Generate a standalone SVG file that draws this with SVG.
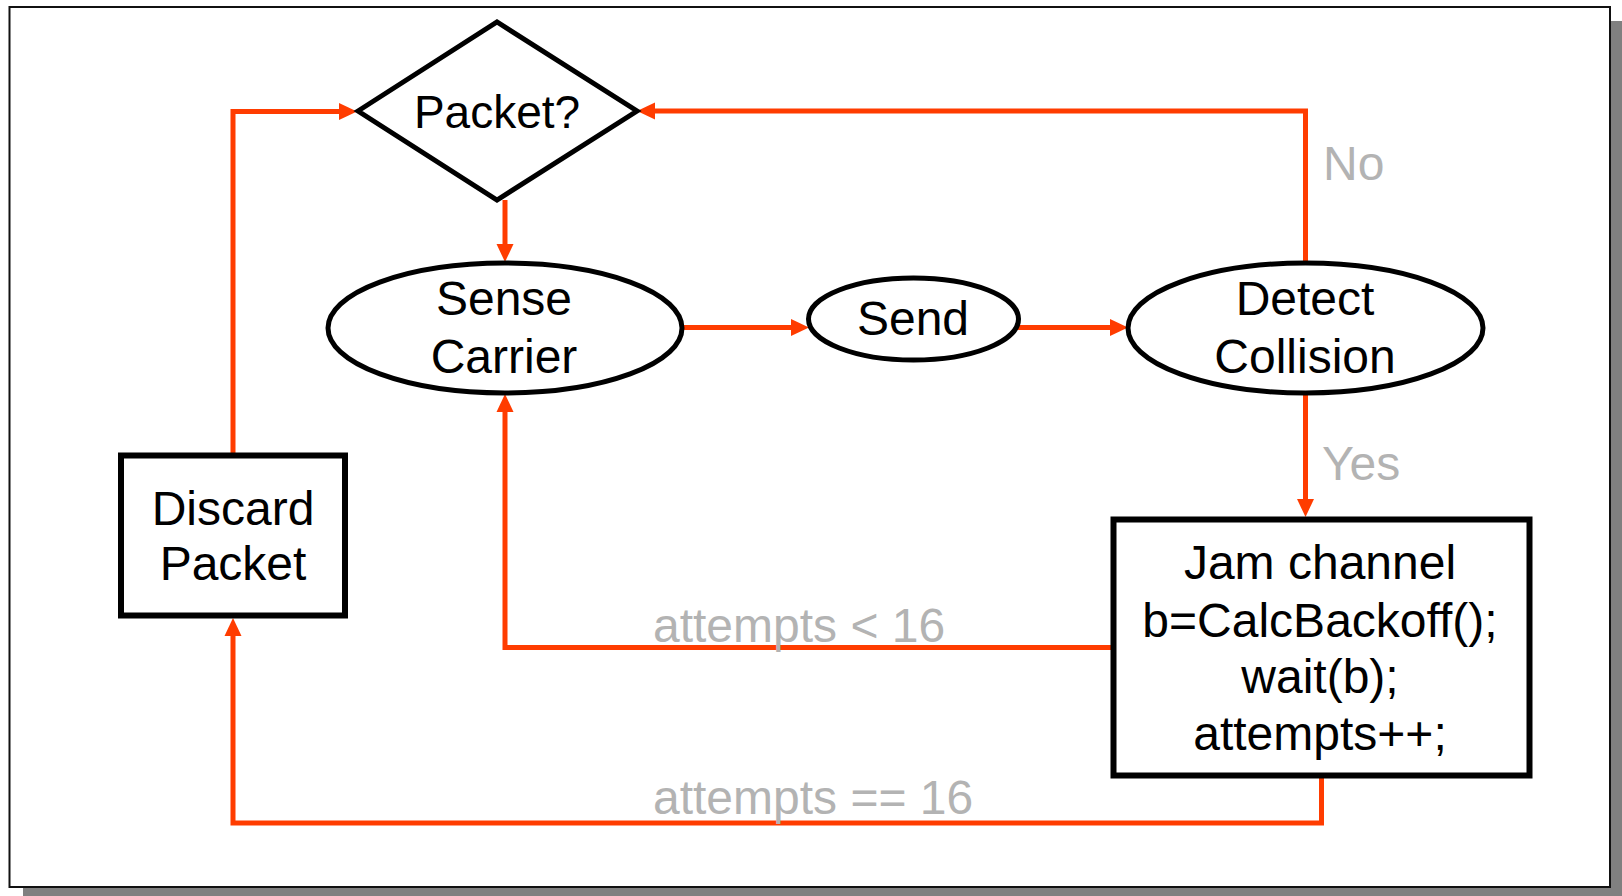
<svg xmlns="http://www.w3.org/2000/svg" width="1622" height="896" viewBox="0 0 1622 896">
<style>
.frame{fill:#fff;stroke:#111;stroke-width:2}
.shadow{fill:#808080}
.node{fill:#fff;stroke:#000;stroke-width:5}
.box{fill:#fff;stroke:#000;stroke-width:6}
.t{font-family:"Liberation Sans",Arial,sans-serif;font-size:48px;fill:#000;text-anchor:middle}
.lbl{font-family:"Liberation Sans",Arial,sans-serif;font-size:48px;fill:#b3b3b3}
.c{fill:none;stroke:#ff3c00;stroke-width:5;stroke-linejoin:miter;marker-end:url(#ah)}
</style>
<defs>
<marker id="ah" markerUnits="userSpaceOnUse" markerWidth="18" markerHeight="17" refX="8" refY="8.5" orient="auto" overflow="visible">
<path d="M0,0 L18,8.5 L0,17 Z" fill="#ff3c00"/>
</marker>
</defs>
<rect class="shadow" x="23" y="21" width="1600" height="880"/>
<rect class="frame" x="9.5" y="7" width="1600.5" height="880"/>

<g id="connectors">
<path class="c" d="M505,200 L505,252"/>
<path class="c" d="M682,327.5 L799,327.5"/>
<path class="c" d="M1018,327.5 L1118,327.5"/>
<path class="c" d="M1305.5,263 L1305.5,111 L647,111"/>
<path class="c" d="M1305.5,393 L1305.5,507"/>
<path class="c" d="M1111,647.5 L505,647.5 L505,404"/>
<path class="c" d="M1321.5,778 L1321.5,823 L233,823 L233,628"/>
<path class="c" d="M233,453 L233,111.5 L347,111.5"/>
</g>

<g id="packet">
<polygon class="node" points="358,111 497,22 637,111 497,200"/>
<text class="t" x="497" y="128" style="font-size:46px">Packet?</text>
</g>
<g id="sense">
<ellipse class="node" cx="505" cy="328" rx="177" ry="65"/>
<text class="t" x="504" y="315">Sense</text>
<text class="t" x="504" y="373">Carrier</text>
</g>
<g id="send">
<ellipse class="node" cx="913.5" cy="319" rx="105" ry="41"/>
<text class="t" x="913" y="335">Send</text>
</g>
<g id="detect">
<ellipse class="node" cx="1305.5" cy="328" rx="177.5" ry="65"/>
<text class="t" x="1305" y="315">Detect</text>
<text class="t" x="1305" y="373">Collision</text>
</g>
<g id="jam">
<rect class="box" x="1113.5" y="519.5" width="416" height="256"/>
<text class="t" x="1320" y="579">Jam channel</text>
<text class="t" x="1320" y="637">b=CalcBackoff();</text>
<text class="t" x="1320" y="693">wait(b);</text>
<text class="t" x="1320" y="750">attempts++;</text>
</g>
<g id="discard">
<rect class="box" x="121" y="455.5" width="224" height="160"/>
<text class="t" x="233" y="525">Discard</text>
<text class="t" x="233" y="580">Packet</text>
</g>

<g id="labels">
<text class="lbl" x="1323" y="180">No</text>
<text class="lbl" x="1322" y="480">Yes</text>
<text class="lbl" x="653" y="642">attempts &lt; 16</text>
<text class="lbl" x="653" y="814">attempts == 16</text>
</g>
</svg>
